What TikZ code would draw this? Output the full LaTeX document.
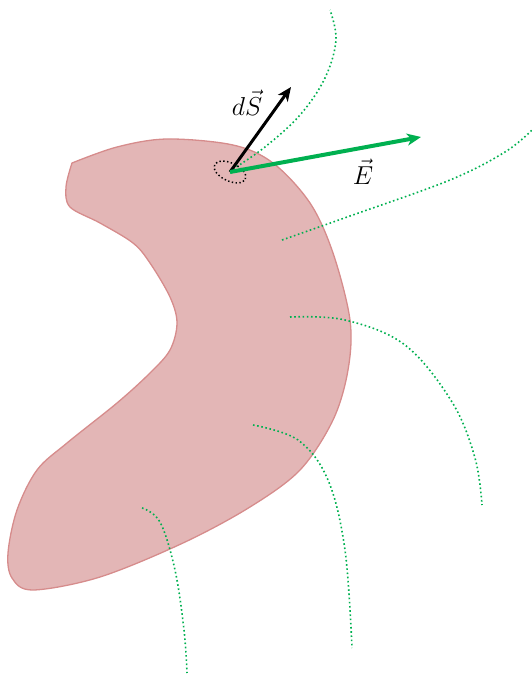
\documentclass[tikz,border=0pt]{standalone}
\usetikzlibrary{arrows.meta}
\definecolor{blobfill}{RGB}{227,182,182}
\definecolor{blobline}{RGB}{214,140,140}
\definecolor{fieldgreen}{RGB}{0,176,80}
\begin{document}
\begin{tikzpicture}[x=1pt,y=-1pt,
  blob/.style={fill=blobfill,draw=blobline,line width=1.3pt},
  fieldline/.style={draw=fieldgreen,line width=1.6pt,dash pattern=on 1.6pt off 2.6pt},
  vecarrow/.style={-{Stealth[length=14pt,width=12pt,inset=4pt]}},
  lbl/.style={font=\fontsize{19}{22}\selectfont,scale=1.5,inner sep=0pt}]
\useasboundingbox (0,0) rectangle (532,675);
% body
\path[blob] plot[smooth,tension=0.55] coordinates {
 (72,163) (117,147) (167,139) (233,145) (273,163) (310,203) (333,253) (350,320)
 (348,370) (333,420) (300,470) (250,507) (183,543) (100,577) (33,590) (12,578)
 (8,553) (17,510) (37,470) (67,443) (117,403) (150,373) (170,350) (177,323)
 (170,297) (150,263) (133,243) (100,223) (70,207) (66,187) (72,163)} -- cycle;
% field lines
\draw[fieldline] plot[smooth,tension=0.6] coordinates {(233,169) (265,147) (300,115) (325,78) (336,40) (330,10)};
\draw[fieldline] plot[smooth,tension=0.6] coordinates {(282,240) (350,216) (450,180) (505,152) (532,130)};
\draw[fieldline] plot[smooth,tension=0.6] coordinates {(290,317) (345,320) (405,345) (452,402) (475,458) (482,505)};
\draw[fieldline] plot[smooth,tension=0.6] coordinates {(253,425) (298,440) (328,480) (345,550) (352,648)};
\draw[fieldline] plot[smooth,tension=0.6] coordinates {(142,508) (160,522) (175,570) (184,630) (187,673)};
% surface element
\coordinate (o) at (230,172);
\coordinate (dsend) at (291,87);
\coordinate (eend) at (421,137);
\draw[black,line width=1.5pt,dash pattern=on 1.4pt off 2.4pt,rotate around={-25:(o)}] (o) ellipse [x radius=17pt,y radius=9pt];
\draw[vecarrow,black,line width=3pt] (o) -- (dsend);
\draw[vecarrow,fieldgreen,line width=4pt] (o) -- (eend);
\node[lbl] (ds) at (247,103) {$d\vec{S}$};
\node[lbl] (e) at (363,172) {$\vec{E}$};
\end{tikzpicture}
\end{document}
